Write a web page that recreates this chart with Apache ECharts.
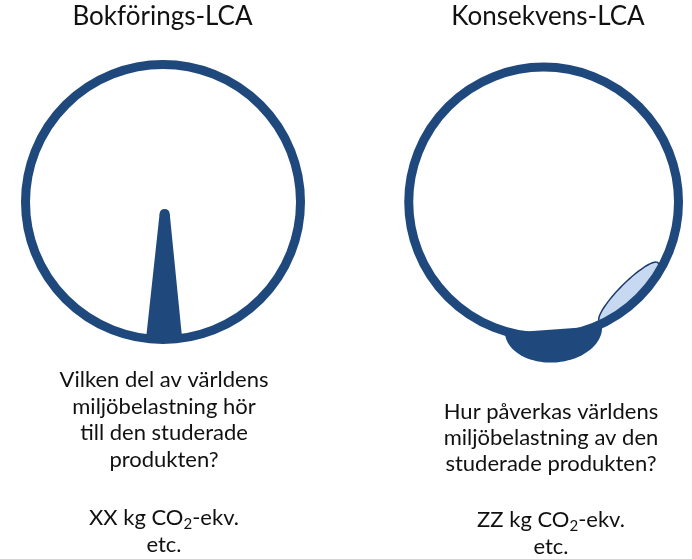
<!DOCTYPE html>
<html>
<head>
<meta charset="utf-8">
<script src="https://cdn.jsdelivr.net/npm/echarts@6/dist/echarts.min.js"></script>
<style>
html,body{margin:0;padding:0;background:#fff;}
#chart{width:692px;height:559px;}
</style>
</head>
<body>
<div id="chart"></div>
<script>
// ---- data (unit circle = "the world's environmental load") ----
const panelTitles = ['Bokförings-LCA', 'Konsekvens-LCA'];
const leftQuestion = ['Vilken del av världens', 'miljöbelastning hör', 'till den studerade', 'produkten?'];
const rightQuestion = ['Hur påverkas världens', 'miljöbelastning av den', 'studerade produkten?'];
const leftResult = ['XX kg CO{sub|2}-ekv.', 'etc.'];
const rightResult = ['ZZ kg CO{sub|2}-ekv.', 'etc.'];
// world circle: [cx, cy, r]
const worldCircle = [0, 0, 1];
// attributional share (spike from the circle edge): outline points and rounded tip [cx, cy, r]
const spikeOutline = [[-0.124, -1.0], [-0.025, -0.087], [0.049, -0.087], [0.140, -1.0]];
const spikeTip = [0.012, -0.087, 0.037];
// consequential change: bowl (half ellipse) [cx, cy, rx, ry, angleDeg]
const consequenceBowl = [0.073, -0.927, 0.361, 0.240, 4];
// side effect ellipse [cx, cy, rx, ry, angleDeg]
const sideEffect = [0.631, -0.656, 0.305, 0.068, 44.5];

const DARK = '#1F497D';
const LIGHT = '#C6D9F1';
const EDGE = '#1B3A6E';
const FONT = 'Lato, "Open Sans", sans-serif';

const chart = echarts.init(document.getElementById('chart'), null, {renderer: 'canvas'});

function ellipsePoints(api, e, t0, t1, n) {
  const [cx, cy, rx, ry, deg] = e;
  const a = deg * Math.PI / 180;
  const pts = [];
  for (let i = 0; i <= n; i++) {
    const t = t0 + (t1 - t0) * i / n;
    const lx = rx * Math.cos(t), ly = ry * Math.sin(t);
    pts.push(api.coord([cx + lx * Math.cos(a) - ly * Math.sin(a), cy + lx * Math.sin(a) + ly * Math.cos(a)]));
  }
  return pts;
}

const unit = 137.5;
const centers = [[163, 202], [546.5, 202]];
const xr = [-1.1, 1.1], yr = [-1.3, 1.1];
const grids = centers.map(c => ({
  left: c[0] - (0 - xr[0]) * unit,
  top: c[1] - yr[1] * unit,
  width: (xr[1] - xr[0]) * unit,
  height: (yr[1] - yr[0]) * unit,
  containLabel: false
}));

function axisX(i) { return {type: 'value', gridIndex: i, min: xr[0], max: xr[1], show: false}; }
function axisY(i) { return {type: 'value', gridIndex: i, min: yr[0], max: yr[1], show: false}; }

function circleSeries(i) {
  return {
    type: 'custom', xAxisIndex: i, yAxisIndex: i, z: 3, silent: true,
    data: [worldCircle],
    renderItem: (params, api) => {
      const c = api.coord([api.value(0), api.value(1)]);
      const r = api.size([api.value(2), api.value(2)])[0];
      return {type: 'circle', shape: {cx: c[0], cy: c[1], r: r},
        style: {fill: 'none', stroke: DARK, lineWidth: 9}};
    }
  };
}

const series = [
  circleSeries(0),
  {
    type: 'custom', xAxisIndex: 0, yAxisIndex: 0, z: 4, silent: true,
    data: [0],
    renderItem: (params, api) => {
      const pts = spikeOutline.map(p => api.coord(p));
      const tc = api.coord([spikeTip[0], spikeTip[1]]);
      const tr = api.size([spikeTip[2], spikeTip[2]])[0];
      return {type: 'group', children: [
        {type: 'polygon', shape: {points: pts}, style: {fill: DARK}},
        {type: 'circle', shape: {cx: tc[0], cy: tc[1], r: tr}, style: {fill: DARK}}
      ]};
    }
  },
  {
    type: 'custom', xAxisIndex: 1, yAxisIndex: 1, z: 1, silent: true,
    data: [0],
    renderItem: (params, api) => ({
      type: 'polygon', shape: {points: ellipsePoints(api, sideEffect, 0, Math.PI * 2, 80)},
      style: {fill: LIGHT, stroke: EDGE, lineWidth: 1.5}
    })
  },
  {
    type: 'custom', xAxisIndex: 1, yAxisIndex: 1, z: 2, silent: true,
    data: [0],
    renderItem: (params, api) => ({
      type: 'polygon', shape: {points: ellipsePoints(api, consequenceBowl, Math.PI, Math.PI * 2, 60)},
      style: {fill: DARK}
    })
  },
  circleSeries(1)
];

function txt(x, y, lines, size, lh) {
  return {
    type: 'text', x: x, y: y, z: 10, silent: true,
    style: {
      text: lines.join('\n'), align: 'center', verticalAlign: 'top',
      fontFamily: FONT, fontSize: size, lineHeight: lh, fill: '#111',
      rich: {sub: {fontSize: 15, fontFamily: FONT, fill: '#111', verticalAlign: 'bottom', lineHeight: 14}}
    }
  };
}

const graphic = [
  {type: 'text', x: 162.5, y: 17, z: 10, silent: true,
    style: {text: panelTitles[0], align: 'center', verticalAlign: 'middle', fontFamily: FONT, fontSize: 26, fill: '#111'}},
  {type: 'text', x: 548, y: 17, z: 10, silent: true,
    style: {text: panelTitles[1], align: 'center', verticalAlign: 'middle', fontFamily: FONT, fontSize: 26, fill: '#111'}},
  txt(164, 366.5, leftQuestion, 22, 26.7),
  txt(551, 398.5, rightQuestion, 22, 26),
  txt(164, 505, leftResult, 22, 26.5),
  txt(551, 507, rightResult, 22, 26.5)
];

chart.setOption({
  animation: false,
  backgroundColor: '#fff',
  grid: grids,
  xAxis: [axisX(0), axisX(1)],
  yAxis: [axisY(0), axisY(1)],
  series: series,
  graphic: graphic
});
</script>
</body>
</html>
